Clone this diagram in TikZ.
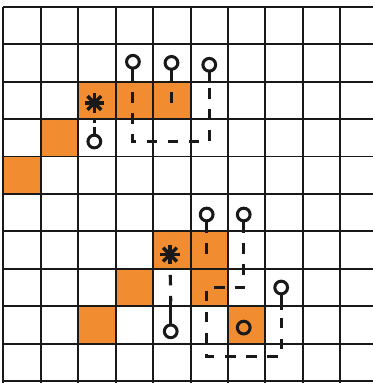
\documentclass[tikz,border=0pt]{standalone}
\definecolor{cellOrange}{RGB}{241,141,48}
\begin{document}
\begin{tikzpicture}[
    x=1cm, y=-1cm,
    gridLineStyle/.style={black!90, line width=1.5pt},
    cellFillStyle/.style={fill=cellOrange},
    pinRing/.style={circle, draw=black!90, line width=2.3pt, minimum size=0.34cm, inner sep=0pt, outer sep=0pt},
    starMark/.style={circle, minimum size=0.52cm, inner sep=0pt, outer sep=0pt},
    starArmStyle/.style={line width=2.6pt, black!90},
    pinStemStyle/.style={line width=2.4pt, black!90},
    wireDashStyle/.style={line width=2.4pt, black!90, dash pattern=on 8pt off 8pt, dash phase=8pt},
    starLinkStyle/.style={line width=2.4pt, black!90, dash pattern=on 4pt off 4pt, dash phase=4pt}
]
    % --- 方格 ---
    \useasboundingbox (-0.09,-0.18) rectangle (9.86,10.05);
    \fill[white] (-0.09,-0.18) rectangle (9.86,10.05);
    \foreach \c/\r in {2/2,3/2,4/2,1/3,0/4,4/6,5/6,3/7,5/7,2/8,6/8}
        \fill[cellFillStyle] (\c,\r) rectangle ++(1,1);
    \draw[gridLineStyle] (0,10.05) grid (9.86,0);

    % --- 上组 ---
    \node[starMark] (tStar) at (2.43,2.57) {};
    \foreach \a/\b in {0/180,45/225,90/270,135/315}
        \draw[starArmStyle] (tStar.\a) -- (tStar.\b);
    \node[pinRing] (tEnd) at (2.43,3.60) {};
    \coordinate (tEndTop) at (2.43,3.20);
    \draw[starLinkStyle] (tStar) -- (tEndTop);
    \draw[pinStemStyle] (tEndTop) -- (tEnd);

    \node[pinRing] (tPinA) at (3.46,1.47) {};
    \node[pinRing] (tPinB) at (4.49,1.50) {};
    \node[pinRing] (tPinC) at (5.50,1.55) {};
    \coordinate (tStemA) at (3.46,2.00);
    \coordinate (tStemB) at (4.49,2.00);
    \coordinate (tStemC) at (5.50,2.00);
    \coordinate (tStubB) at (4.49,2.62);

    \draw[pinStemStyle] (tPinA) -- (tStemA);
    \draw[pinStemStyle] (tPinB) -- (tStemB);
    \draw[pinStemStyle] (tPinC) -- (tStemC);
    \draw[wireDashStyle] (tStemA) -- (tStemA |- tEnd) -- (tStemC |- tEnd) -- (tStemC);
    \draw[wireDashStyle] (tStemB) -- (tStubB);

    % --- 下组 ---
    \node[starMark] (bStar) at (4.45,6.62) {};
    \foreach \a/\b in {0/180,45/225,90/270,135/315}
        \draw[starArmStyle] (bStar.\a) -- (bStar.\b);
    \node[pinRing] (bEnd) at (4.47,8.67) {};
    \coordinate (bEndTop) at (4.47,7.88);
    \draw[wireDashStyle] (bStar) -- (bEndTop);
    \draw[pinStemStyle] (bEndTop) -- (bEnd);

    \node[pinRing] (bPinA) at (5.43,5.55) {};
    \node[pinRing] (bPinB) at (6.42,5.55) {};
    \node[pinRing] (bPinC) at (7.42,7.50) {};
    \node[pinRing] (bRing) at (6.42,8.57) {};
    \coordinate (bStemA) at (5.43,6.04);
    \coordinate (bStubA) at (5.43,6.80);
    \coordinate (bStemB) at (6.42,6.04);
    \coordinate (bStemC) at (7.42,8.10);
    \coordinate (bFloor) at (5.45,9.34);

    \draw[pinStemStyle] (bPinA) -- (bStemA);
    \draw[pinStemStyle] (bPinB) -- (bStemB);
    \draw[pinStemStyle] (bPinC) -- (bStemC);
    \draw[wireDashStyle] (bStemA) -- (bStubA);
    \draw[wireDashStyle] (bStemB) -- (bStemB |- bPinC) -- (bStemA |- bPinC)
        -- (bStemA |- bFloor) -- (bStemC |- bFloor) -- (bStemC);
\end{tikzpicture}
\end{document}
